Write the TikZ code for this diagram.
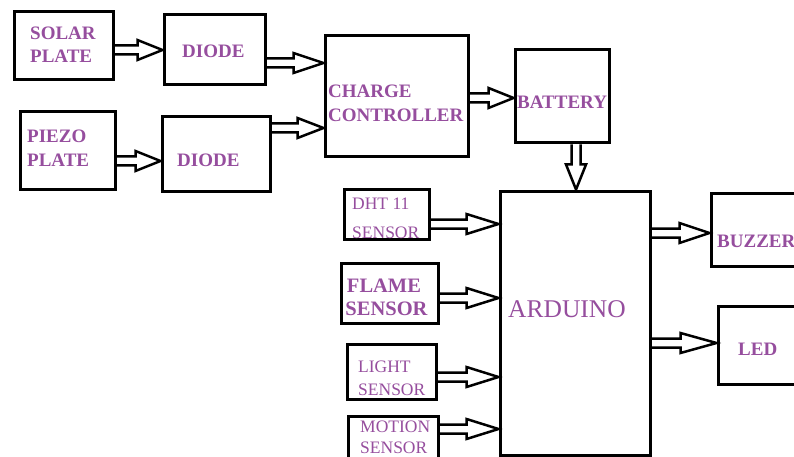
\documentclass[tikz,border=0pt]{standalone}
\usepackage{fontspec}
\setmainfont{Liberation Serif}
\usetikzlibrary{calc}
\definecolor{txt}{RGB}{150,78,158}
\tikzset{
  box/.style={draw, line width=3pt, rectangle, inner sep=0pt},
  bt/.style={text=txt, font=\fontsize{19}{23}\selectfont\bfseries, anchor=base west, inner sep=0pt},
  rt/.style={text=txt, font=\fontsize{17.5}{21}\selectfont, anchor=base west, inner sep=0pt},
  hlen/.store in=\bhl, hlen=25pt,
  barrow/.style={draw, line width=2.5pt, line join=miter,
    to path={let \p1=(\tikztostart), \p2=(\tikztotarget) in
      (\x1,\y1+4.5pt) -- (\x2-\bhl,\y1+4.5pt) -- (\x2-\bhl,\y1+10pt) -- (\x2,\y1)
      -- (\x2-\bhl,\y1-10pt) -- (\x2-\bhl,\y1-4.5pt) -- (\x1,\y1-4.5pt)}},
  barrowv/.style={draw, line width=2.5pt, line join=miter,
    to path={let \p1=(\tikztostart), \p2=(\tikztotarget) in
      (\x1-4.5pt,\y1) -- (\x1-4.5pt,\y2+\bhl) -- (\x1-10pt,\y2+\bhl) -- (\x1,\y2)
      -- (\x1+10pt,\y2+\bhl) -- (\x1+4.5pt,\y2+\bhl) -- (\x1+4.5pt,\y1)}},
}
\begin{document}
\begin{tikzpicture}[x=1pt,y=-1pt]
\clip (0,0) rectangle (794,457);
\fill[white] (0,0) rectangle (794,457);

% boxes
\node[box, minimum width=99pt, minimum height=68pt] (sp) at (63.5,46) {};
\node[box, minimum width=101pt, minimum height=70pt] (d1) at (214.5,50) {};
\node[box, minimum width=95pt, minimum height=77pt] (pz) at (67.5,150.5) {};
\node[box, minimum width=108pt, minimum height=74pt] (d2) at (216,154) {};
\node[box, minimum width=143pt, minimum height=121pt] (cc) at (396.5,96.5) {};
\node[box, minimum width=94pt, minimum height=93pt] (bat) at (562,96.5) {};
\node[box, minimum width=150pt, minimum height=264pt] (ard) at (575,323) {};
\node[box, minimum width=85pt, minimum height=50pt] (dht) at (386.5,214) {};
\node[box, minimum width=97pt, minimum height=60pt] (fl) at (389.5,293) {};
\node[box, minimum width=89pt, minimum height=55pt] (li) at (391.5,371.5) {};
\node[box, minimum width=90pt, minimum height=54pt] (mo) at (393,443) {};
\node[box, minimum width=89pt, minimum height=73pt] (bz) at (755.5,229.5) {};
\node[box, minimum width=82pt, minimum height=78pt] (led) at (759,345) {};

% texts
\node[bt] (t1a) at (30,40) {SOLAR};
\node[bt] (t1b) at (30,63) {PLATE};
\node[bt] (t2) at (182,58) {DIODE};
\node[bt] (t3a) at (27,143) {PIEZO};
\node[bt] (t3b) at (27,167) {PLATE};
\node[bt] (t4) at (177,167) {DIODE};
\node[bt] (t5a) at (328,98) {CHARGE};
\node[bt] (t5b) at (328,122) {CONTROLLER};
\node[bt] (t6) at (517,109) {BATTERY};
\node[rt] (t7a) at (352,209) {DHT 11};
\node[rt] (t7b) at (352,238.5) {SENSOR};
\node[bt, anchor=base, font=\fontsize{20.5}{24}\selectfont\bfseries] (t8a) at (384,292) {FLAME};
\node[bt, anchor=base, font=\fontsize{20.5}{24}\selectfont\bfseries] (t8b) at (386.5,315) {SENSOR};
\node[rt] (t9a) at (358,372) {LIGHT};
\node[rt] (t9b) at (358,395) {SENSOR};
\node[rt] (t10a) at (360,432) {MOTION};
\node[rt] (t10b) at (360,453) {SENSOR};
\node[rt, font=\fontsize{25.5}{30}\selectfont] (t11) at (508,317) {ARDUINO};
\node[bt] (t12) at (717,247) {BUZZER};
\node[bt] (t13) at (738,355) {LED};

% arrows
\draw[barrow] (sp.east |- 0,50) to (d1.west |- 0,50);
\draw[barrow, hlen=30pt] (d1.east |- 0,63) to (cc.west |- 0,63);
\draw[barrow, hlen=26pt] (d2.east |- 0,128) to (cc.west |- 0,128);
\draw[barrow] (pz.east |- 0,161) to (d2.west |- 0,161);
\draw[barrow] (cc.east |- 0,98) to (bat.west |- 0,98);
\draw[barrowv] (bat.south -| 576,0) to (ard.north -| 576,0);
\draw[barrow, hlen=32pt] (dht.east |- 0,224) to (ard.west |- 0,224);
\draw[barrow, hlen=32pt] (fl.east |- 0,298) to (ard.west |- 0,298);
\draw[barrow, hlen=32pt] (li.east |- 0,377) to (ard.west |- 0,377);
\draw[barrow, hlen=32pt] (mo.east |- 0,429) to (ard.west |- 0,429);
\draw[barrow, hlen=30pt] (ard.east |- 0,233) to (bz.west |- 0,233);
\draw[barrow, hlen=36pt] (ard.east |- 0,343) to (led.west |- 0,343);
\end{tikzpicture}
\end{document}
